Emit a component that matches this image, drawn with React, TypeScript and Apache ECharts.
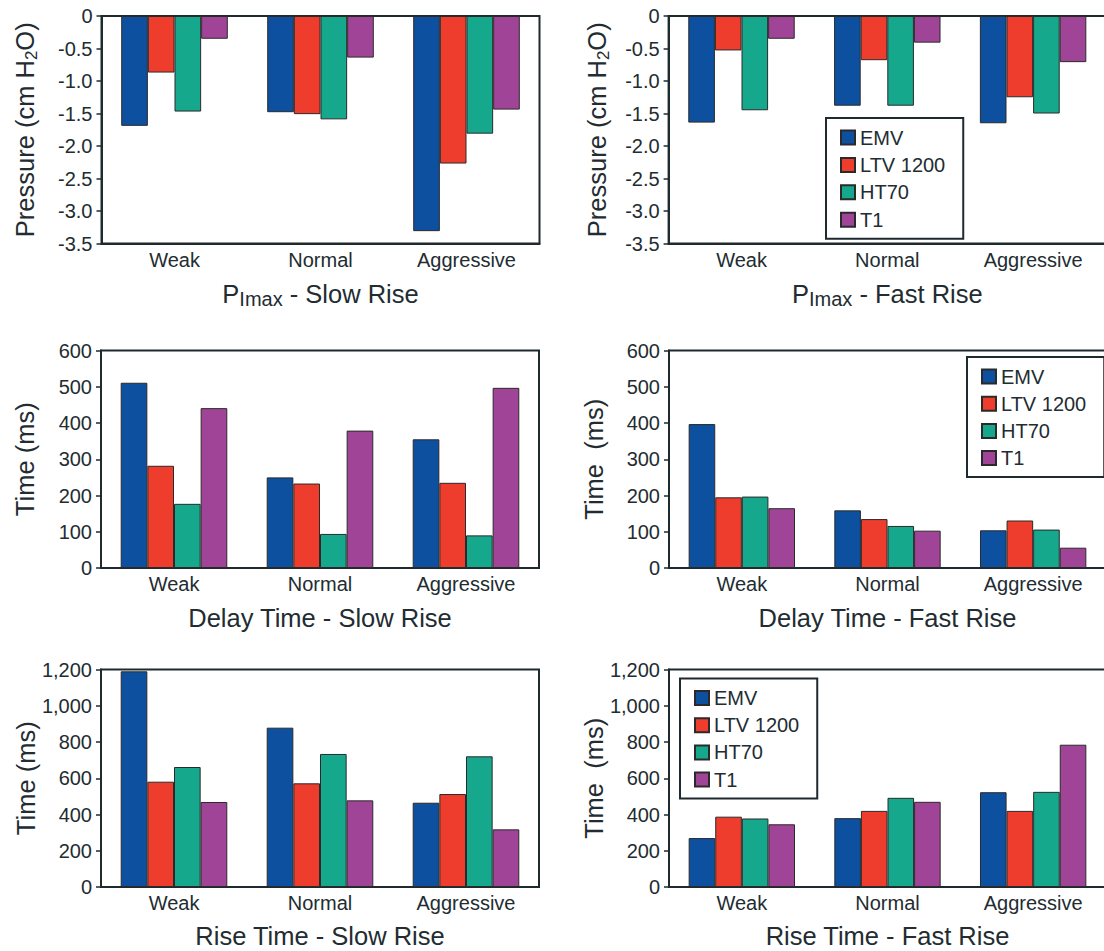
import React, { useEffect, useRef } from 'react';
import * as echarts from 'echarts';

const categories = ['Weak', 'Normal', 'Aggressive'];
const seriesNames = ['EMV', 'LTV 1200', 'HT70', 'T1'];
const seriesColors = ['#0E50A0', '#EE3C2D', '#16A88C', '#A04498'];

// values per series: [Weak, Normal, Aggressive]
const pimaxSlow = [
  [-1.69, -1.48, -3.31],
  [-0.87, -1.51, -2.27],
  [-1.47, -1.59, -1.81],
  [-0.35, -0.64, -1.44],
];
const pimaxFast = [
  [-1.64, -1.38, -1.65],
  [-0.53, -0.68, -1.25],
  [-1.45, -1.38, -1.5],
  [-0.35, -0.41, -0.71],
];
const delaySlow = [
  [511, 250, 355],
  [282, 233, 235],
  [177, 94, 90],
  [441, 379, 497],
];
const delayFast = [
  [397, 159, 104],
  [195, 135, 131],
  [197, 116, 106],
  [165, 103, 56],
];
const riseSlow = [
  [1190, 879, 465],
  [581, 572, 513],
  [662, 734, 721],
  [469, 478, 318],
];
const riseFast = [
  [270, 380, 523],
  [388, 420, 420],
  [378, 492, 525],
  [346, 470, 785],
];

const pressureTicks = [0, -0.5, -1.0, -1.5, -2.0, -2.5, -3.0, -3.5];
const delayTicks = [0, 100, 200, 300, 400, 500, 600];
const riseTicks = [0, 200, 400, 600, 800, 1000, 1200];

const FONT = '"Liberation Sans", Arial, Helvetica, sans-serif';
const DARK = '#1f2a2e';
const TEXT = '#222c31';

const pressureFmt = (v: number) => (v === 0 ? '0' : v.toFixed(1));
const plainFmt = (v: number) => String(v);
const commaFmt = (v: number) => v.toLocaleString('en-US');

const richBase = {
  a: { fontSize: 25.5, lineHeight: 30, color: TEXT, fontFamily: FONT },
  s: { fontSize: 20, lineHeight: 20, color: TEXT, fontFamily: FONT, verticalAlign: 'bottom' },
  s2: { fontSize: 17, lineHeight: 16, color: TEXT, fontFamily: FONT, verticalAlign: 'bottom' },
};

const panels = [
  { data: pimaxSlow, ticks: pressureTicks, fmt: pressureFmt, yName: '{a|Pressure (cm H}{s2|2}{a|O)}', xName: '{a|P}{s|Imax}{a| - Slow Rise}', left: 101.5, top: 16, width: 438, height: 227.5, yGap: 62, xGap: 35.5, legend: null as null | { left: number; top: number; gap: number } },
  { data: pimaxFast, ticks: pressureTicks, fmt: pressureFmt, yName: '{a|Pressure (cm H}{s2|2}{a|O)}', xName: '{a|P}{s|Imax}{a| - Fast Rise}', left: 668.6, top: 16, width: 437.4, height: 227.5, yGap: 57, xGap: 35.5, legend: { left: 826, top: 118, gap: 7.4 } },
  { data: delaySlow, ticks: delayTicks, fmt: plainFmt, yName: '{a|Time (ms)}', xName: '{a|Delay Time - Slow Rise}', left: 101, top: 350.5, width: 438, height: 217.5, yGap: 61, xGap: 35, legend: null },
  { data: delayFast, ticks: delayTicks, fmt: plainFmt, yName: '{a|Time  (ms)}', xName: '{a|Delay Time - Fast Rise}', left: 669, top: 350.5, width: 437, height: 217.5, yGap: 60, xGap: 35, legend: { left: 967, top: 357, gap: 7.2 } },
  { data: riseSlow, ticks: riseTicks, fmt: commaFmt, yName: '{a|Time (ms)}', xName: '{a|Rise Time - Slow Rise}', left: 101, top: 669.5, width: 438, height: 217.5, yGap: 60, xGap: 34, legend: null },
  { data: riseFast, ticks: riseTicks, fmt: commaFmt, yName: '{a|Time  (ms)}', xName: '{a|Rise Time - Fast Rise}', left: 669, top: 669.5, width: 437, height: 217.5, yGap: 60, xGap: 34, legend: { left: 680, top: 678.5, gap: 7.2 } },
];

function buildOption() {
  const grid: any[] = [];
  const xAxis: any[] = [];
  const yAxis: any[] = [];
  const series: any[] = [];
  const legend: any[] = [];

  panels.forEach((p, i) => {
    grid.push({
      left: p.left,
      top: p.top,
      width: p.width,
      height: p.height,
      containLabel: false,
      outerBoundsMode: 'none',
      show: true,
      borderColor: DARK,
      borderWidth: 2,
      backgroundColor: 'transparent',
    });
    const tmin = Math.min(...p.ticks);
    const tmax = Math.max(...p.ticks);
    const interval = Math.abs(p.ticks[1] - p.ticks[0]);
    xAxis.push({
      type: 'category',
      gridIndex: i,
      data: categories,
      axisLine: { show: true, onZero: false, lineStyle: { color: DARK, width: 2 } },
      axisTick: { show: false },
      axisLabel: { show: true, margin: 6, fontSize: 20, color: TEXT, fontFamily: FONT, interval: 0 },
      splitLine: { show: false },
      name: p.xName,
      nameLocation: 'middle',
      nameGap: p.xGap,
      nameMoveOverlap: false,
      nameTextStyle: { rich: richBase },
    });
    yAxis.push({
      type: 'value',
      gridIndex: i,
      min: tmin,
      max: tmax,
      interval,
      axisLine: { show: true, lineStyle: { color: DARK, width: 2 } },
      axisTick: { show: true, length: 5, lineStyle: { color: DARK, width: 1.5 } },
      axisLabel: { show: true, margin: 9, fontSize: 20, color: TEXT, fontFamily: FONT, formatter: p.fmt },
      splitLine: { show: false },
      name: p.yName,
      nameLocation: 'middle',
      nameRotate: 90,
      nameGap: p.yGap,
      nameMoveOverlap: false,
      nameTextStyle: { rich: richBase },
    });
    seriesNames.forEach((name, k) => {
      series.push({
        type: 'bar',
        name,
        xAxisIndex: i,
        yAxisIndex: i,
        data: p.data[k],
        barGap: '0%',
        barCategoryGap: '27%',
        itemStyle: { color: seriesColors[k], borderColor: '#2a2a2a', borderWidth: 1 },
        emphasis: { disabled: true },
      });
    });
    if (p.legend) {
      legend.push({
        show: true,
        data: seriesNames,
        orient: 'vertical',
        left: p.legend.left,
        top: p.legend.top,
        padding: [9.5, 18, 9, 14],
        itemGap: p.legend.gap,
        itemWidth: 14,
        itemHeight: 14,
        icon: 'rect',
        borderColor: DARK,
        borderWidth: 2,
        backgroundColor: '#ffffff',
        selectedMode: false,
        textStyle: { fontSize: 20, color: TEXT, fontFamily: FONT },
      });
    }
  });

  return {
    animation: false,
    backgroundColor: '#ffffff',
    textStyle: { fontFamily: FONT },
    grid,
    xAxis,
    yAxis,
    series,
    legend,
  };
}

export default function App() {
  const ref = useRef<HTMLDivElement>(null);
  useEffect(() => {
    if (!ref.current) return;
    const chart = echarts.init(ref.current, null, { renderer: 'svg' });
    chart.setOption(buildOption() as any);
    return () => chart.dispose();
  }, []);
  return (
    <div
      ref={ref}
      style={{ position: 'absolute', left: 0, top: 0, width: 1104, height: 951, overflow: 'hidden' }}
    />
  );
}
